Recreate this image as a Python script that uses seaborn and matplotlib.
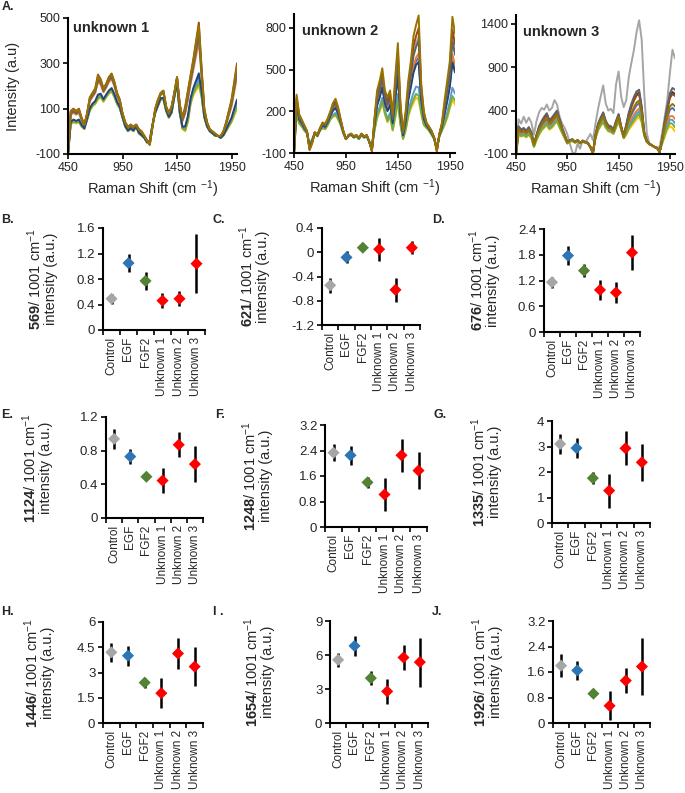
import numpy as np
import pandas as pd
import seaborn as sns
import matplotlib.pyplot as plt

# ---- A: Raman spectra (at 25 cm-1 steps) ----
shift = list(range(450, 2001, 25))

unk1_low = [-100, 30, 40, 35, 40, 20, 10, 50, 90, 110,
            120, 140, 150, 130, 150, 165, 175, 150, 120, 100,
            60, 20, 0, 10, 0, 20, -10, -20, -30, -50,
            -40, 30, 80, 110, 140, 140, 90, 60, 80, 150,
            210, 80, 10, 0, 40, 120, 160, 180, 200, 150,
            60, 20, 0, -10, -20, -20, -30, -20, 0, 20,
            40, 70, 100]
unk1_high = [-100, 90, 100, 90, 100, 60, 30, 80, 150, 170,
             190, 250, 230, 190, 210, 240, 255, 220, 170, 140,
             80, 40, 20, 30, 20, 30, 10, 0, -20, -40,
             -60, 20, 100, 140, 170, 180, 110, 80, 110, 170,
             240, 120, 60, 110, 180, 250, 320, 400, 480, 280,
             100, 40, 10, 0, -10, -20, -20, 0, 40, 90,
             140, 220, 300]

unk2_low = [-100, 180, 110, 90, 60, 40, -40, 0, 40, 20,
            60, 80, 70, 100, 140, 160, 170, 140, 100, 40,
            0, 20, 30, 10, 20, 0, 30, 10, 20, -20,
            -60, 60, 150, 200, 260, 180, 120, 160, 60, 150,
            260, 100, 0, 60, 160, 220, 260, 300, 280, 180,
            100, 80, 60, 30, 0, -60, 20, 60, 100, 150,
            220, 280, 250]
unk2_high = [-100, 320, 180, 140, 100, 60, -80, -30, 50, 30,
             80, 120, 110, 150, 200, 260, 290, 230, 140, 60,
             0, 30, 40, 20, 30, 10, 40, 20, 30, -20,
             -90, 150, 350, 420, 510, 350, 300, 350, 180, 450,
             690, 250, 60, 200, 420, 560, 740, 820, 890, 400,
             200, 120, 90, 60, 10, -90, 40, 120, 280, 420,
             560, 880, 760]

unk3_low = [-100, 120, 100, 110, 90, 120, 80, -20, 60, 120,
            170, 200, 230, 180, 200, 240, 270, 200, 140, 80,
            20, 40, 50, 30, 50, 20, 40, 30, 20, -20,
            -80, 80, 170, 220, 260, 200, 160, 150, 130, 200,
            270, 180, 80, 120, 180, 220, 260, 300, 330, 260,
            110, 40, 10, 0, -20, -30, -70, 20, 100, 180,
            220, 200, 160]
unk3_high = [-100, 220, 180, 200, 170, 210, 150, 20, 120, 220,
             280, 330, 370, 290, 320, 360, 400, 300, 200, 120,
             40, 60, 70, 40, 60, 30, 50, 40, 30, -20,
             -90, 120, 250, 320, 380, 280, 230, 220, 180, 280,
             360, 220, 110, 240, 380, 480, 560, 620, 640, 450,
             150, 50, 20, 0, -20, -30, -80, 80, 280, 450,
             600, 660, 640]
unk3_outlier = [-100, 300, 250, 330, 260, 320, 260, 120, 280, 380,
                430, 410, 470, 400, 430, 520, 470, 330, 250, 200,
                130, 20, -80, -100, 20, -40, 60, 30, 80, 130,
                60, 250, 420, 560, 690, 480, 400, 420, 370, 700,
                850, 560, 440, 520, 790, 950, 1100, 1300, 1440, 1220,
                600, 140, 20, 0, -20, -30, -20, 140, 330, 520,
                830, 1100, 1000]

trace_colors = ['#4472C4', '#ED7D31', '#A5A5A5', '#FFC000', '#5B9BD5',
                '#70AD47', '#264478', '#9E480E', '#636363', '#997300']
# where each trace sits between the low and high envelope (None = outlier trace)
unk1_mix = [0.15, 0.7, 0.85, 0.0, 0.1, 0.05, 0.2, 1.0, 0.8, 0.95]
unk2_mix = [0.5, 0.55, 0.75, 0.0, 0.15, 0.05, 0.45, 0.85, 0.7, 1.0]
unk3_mix = [0.5, 0.3, None, 0.0, 0.2, 0.1, 0.9, 0.85, 1.0, 0.6]

# ---- B-J: band ratios ----
groups = ['Control', 'EGF', 'FGF2', 'Unknown 1', 'Unknown 2', 'Unknown 3']
group_colors = ['#A6A6A6', '#2E75B6', '#548235', '#FF0000', '#FF0000', '#FF0000']

mean_569 = [0.49, 1.05, 0.77, 0.46, 0.49, 1.04]
err_569 = [0.08, 0.145, 0.135, 0.115, 0.115, 0.465]
mean_621 = [-0.545, -0.085, 0.075, 0.05, -0.62, 0.075]
err_621 = [0.125, 0.10, 0.035, 0.19, 0.20, 0.11]
mean_676 = [1.16, 1.78, 1.43, 0.98, 0.92, 1.85]
err_676 = [0.13, 0.22, 0.155, 0.24, 0.235, 0.41]
mean_1124 = [0.94, 0.73, 0.49, 0.445, 0.87, 0.64]
err_1124 = [0.12, 0.085, 0.025, 0.15, 0.15, 0.21]
mean_1248 = [2.33, 2.25, 1.40, 1.02, 2.25, 1.77]
err_1248 = [0.27, 0.29, 0.17, 0.51, 0.51, 0.57]
mean_1335 = [3.10, 2.94, 1.76, 1.27, 2.93, 2.38]
err_1335 = [0.40, 0.40, 0.24, 0.67, 0.66, 0.72]
mean_1446 = [4.20, 4.00, 2.40, 1.77, 4.13, 3.35]
err_1446 = [0.57, 0.60, 0.30, 0.90, 0.90, 1.18]
mean_1654 = [5.57, 6.80, 3.96, 2.79, 5.78, 5.37]
err_1654 = [0.65, 0.90, 0.60, 1.08, 1.10, 2.15]
mean_1926 = [1.80, 1.65, 0.92, 0.54, 1.33, 1.77]
err_1926 = [0.35, 0.30, 0.10, 0.45, 0.40, 0.90]

sns.set_style('ticks')
plt.rcParams['font.family'] = ['Liberation Sans', 'DejaVu Sans']
plt.rcParams['mathtext.fontset'] = 'custom'
plt.rcParams['mathtext.rm'] = 'Liberation Sans'
plt.rcParams['mathtext.bf'] = 'Liberation Sans:bold'
plt.rcParams['mathtext.it'] = 'Liberation Sans:italic'
plt.rcParams['axes.unicode_minus'] = False

W, H = 685, 793
fig = plt.figure(figsize=(W / 100, H / 100), dpi=100)


def add_ax(l, t, r, b):
    return fig.add_axes([l / W, 1 - b / H, (r - l) / W, (b - t) / H])


def style_axes(ax):
    sns.despine(ax=ax)
    for s in ['left', 'bottom']:
        ax.spines[s].set_linewidth(1.5)
        ax.spines[s].set_color('black')
    ax.tick_params(which='major', direction='out', length=3.5, width=1.2,
                   color='black', labelsize=9, pad=2)


# SPECTRA
spectra = [('unknown 1', unk1_low, unk1_high, unk1_mix, None, (-100, 500), [-100, 100, 300, 500],
            (68, 18, 237, 154), (0.03, 0.93)),
           ('unknown 2', unk2_low, unk2_high, unk2_mix, None, (-100, 900), [-100, 200, 500, 800],
            (294, 14, 455, 153), (0.05, 0.88)),
           ('unknown 3', unk3_low, unk3_high, unk3_mix, unk3_outlier, (-100, 1500), [-100, 400, 900, 1400],
            (516, 15, 675, 154), (0.045, 0.88))]

for i, (name, low, high, mix, outlier, ylim, yticks, box, txt) in enumerate(spectra):
    ax = add_ax(*box)
    low, high = np.array(low, float), np.array(high, float)
    frames = []
    for color, w in zip(trace_colors, mix):
        trace = np.array(outlier, float) if w is None else low + w * (high - low)
        frames.append(pd.DataFrame({'shift': shift, 'intensity': trace, 'trace': color}))
    df = pd.concat(frames, ignore_index=True)
    sns.lineplot(data=df, x='shift', y='intensity', hue='trace', hue_order=trace_colors,
                 palette={c: c for c in trace_colors}, estimator=None, sort=False,
                 legend=False, lw=1.4, ax=ax)
    ax.set_xlim(450, 2000)
    ax.set_xticks([450, 950, 1450, 1950])
    ax.set_ylim(*ylim)
    ax.set_yticks(yticks)
    style_axes(ax)
    ax.text(txt[0], txt[1], name, transform=ax.transAxes, fontsize=10.5,
            fontweight='bold', va='center', ha='left')
    h = box[3] - box[1]
    ax.set_xlabel('Raman Shift (cm $^{\\mathrm{-1}}$)', fontsize=10.5)
    ax.xaxis.set_label_coords(0.5, -24 / h)
    if i == 0:
        ax.set_ylabel('Intensity (a.u)', fontsize=10.5)
        ax.yaxis.set_label_coords(-48 / (box[2] - box[0]), 0.5)
    else:
        ax.set_ylabel('')

# RATIO PANELS
ratio_panels = [('569', mean_569, err_569, np.arange(0, 1.61, 0.4), (103, 228, 205, 330), 45),
                ('621', mean_621, err_621, np.arange(-1.2, 0.41, 0.4), (322, 228, 420, 325), 52),
                ('676', mean_676, err_676, np.arange(0, 2.41, 0.6), (544, 229, 640, 332), 44),
                ('1124', mean_1124, err_1124, np.arange(0, 1.21, 0.4), (106, 417, 203, 518), 53),
                ('1248', mean_1248, err_1248, np.arange(0, 3.21, 0.8), (325, 425, 427, 527), 52),
                ('1335', mean_1335, err_1335, np.arange(0, 4.1, 1), (552, 421, 650, 523), 50),
                ('1446', mean_1446, err_1446, np.arange(0, 6.1, 1.5), (103, 622, 203, 723), 48),
                ('1654', mean_1654, err_1654, np.arange(0, 9.1, 3), (330, 621, 428, 723), 55),
                ('1926', mean_1926, err_1926, np.arange(0, 3.21, 0.8), (553, 621, 650, 723), 50)]

for band, mean, err, yticks, box, lab_off in ratio_panels:
    ax = add_ax(*box)
    d = pd.DataFrame({'pos': np.arange(len(groups)), 'mean': mean, 'err': err, 'group': groups})
    ax.errorbar(d['pos'], d['mean'], yerr=d['err'], fmt='none', ecolor='black',
                elinewidth=1.8, capsize=0, zorder=2)
    sns.scatterplot(data=d, x='pos', y='mean', hue='group', hue_order=groups,
                    palette=dict(zip(groups, group_colors)), marker='D', s=38,
                    linewidth=0, legend=False, ax=ax, zorder=3)
    ax.set_xlim(-0.5, len(groups) - 0.5)
    ax.set_ylim(yticks[0], yticks[-1])
    ax.set_yticks(yticks)
    ax.set_yticklabels([f'{round(v, 2):g}' for v in yticks])
    style_axes(ax)
    ax.tick_params(axis='y', labelsize=9.5)
    ax.set_xticks(np.arange(-0.5, len(groups), 1))
    ax.set_xticklabels([])
    ax.set_xticks(np.arange(len(groups)), minor=True)
    ax.set_xticklabels(groups, minor=True, rotation=90, fontsize=8.5)
    ax.tick_params(axis='x', which='minor', length=0, pad=5)
    ax.set_xlabel('')
    ax.set_ylabel(f'$\\mathbf{{{band}}}$/ 1001 cm$^{{-1}}$\nintensity (a.u.)', fontsize=10.5,
                  linespacing=1.0)
    ax.yaxis.set_label_coords(-lab_off / (box[2] - box[0]), 0.5)

# PANEL LETTERS
letters = [('A.', 2, 7), ('B.', 1, 220), ('C.', 213, 220), ('D.', 432, 220),
           ('E.', 1, 415), ('F.', 215, 415), ('G.', 433, 415),
           ('H.', 1, 612), ('I .', 213, 612), ('J.', 432, 612)]
for lab, x, y in letters:
    fig.text(x / W, 1 - y / H, lab, fontsize=9, fontweight='bold', ha='left', va='center')

fig.savefig('out.png', dpi=100)
